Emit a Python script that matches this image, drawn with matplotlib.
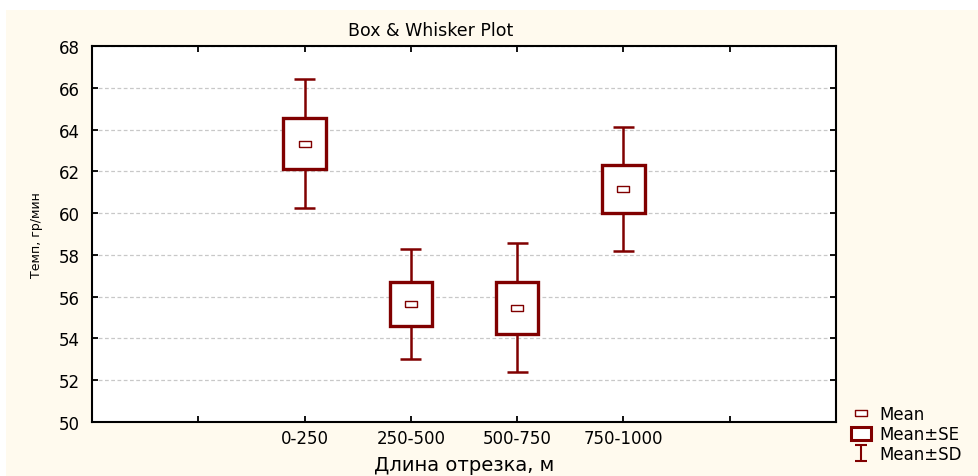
import matplotlib.pyplot as plt
import matplotlib.patches as mpatches
from matplotlib.lines import Line2D
from matplotlib.path import Path

plt.rcParams['font.family'] = ['DejaVu Sans']

# data
groups = ['0-250', '250-500', '500-750', '750-1000']
means = [63.33, 55.65, 55.47, 61.16]
se = [1.23, 1.05, 1.25, 1.15]
sd = [3.08, 2.65, 3.10, 2.95]
positions = [2, 3, 4, 5]

dark_red = '#800000'
cream = '#fffaee'

fig = plt.figure(figsize=(9.79, 4.77), dpi=100, facecolor='white')
# cream panel behind everything
fig.patches.append(mpatches.Rectangle((6 / 979, 0), 1, 1 - 11 / 477,
                                      transform=fig.transFigure,
                                      facecolor=cream, edgecolor='none', zorder=-10))

ax = fig.add_axes([92 / 979, 1 - 423 / 477, 744 / 979, 376 / 477])
ax.set_facecolor('white')

box_w = 0.4
cap_w = 0.2
mean_marker = Path([(-1, -0.55), (1, -0.55), (1, 0.55), (-1, 0.55), (-1, -0.55)])
ibeam = Path([(-0.8, 1), (0.8, 1), (0, 1), (0, -1), (-0.8, -1), (0.8, -1)],
             [Path.MOVETO, Path.LINETO, Path.MOVETO, Path.LINETO, Path.MOVETO, Path.LINETO])

for x, m, s, d in zip(positions, means, se, sd):
    # whiskers (mean +- sd)
    ax.vlines(x, m + s, m + d, color=dark_red, lw=1.8, zorder=3)
    ax.vlines(x, m - d, m - s, color=dark_red, lw=1.8, zorder=3)
    ax.hlines([m + d, m - d], x - cap_w / 2, x + cap_w / 2, color=dark_red, lw=1.8, zorder=3)
    # box (mean +- se)
    ax.add_patch(mpatches.Rectangle((x - box_w / 2, m - s), box_w, 2 * s,
                                    facecolor='white', edgecolor=dark_red, lw=2.4, zorder=4))

ax.plot(positions, means, linestyle='none', marker=mean_marker, markersize=9,
        markerfacecolor='white', markeredgecolor=dark_red, markeredgewidth=1.0, zorder=5)

ax.set_xlim(0, 7)
ax.set_ylim(50, 68)
ax.set_xticks([1, 2, 3, 4, 5, 6])
ax.set_xticklabels([''] + groups + [''])
ax.set_yticks(range(50, 69, 2))

ax.grid(axis='y', color='#c8c8c8', linestyle=(0, (3, 2)), lw=0.9)
ax.set_axisbelow(True)
ax.tick_params(direction='in', top=True, right=True, length=4, width=1.3,
               labelsize=12, color='black')
ax.tick_params(axis='y', pad=9)
ax.tick_params(axis='x', pad=5)
for sp in ax.spines.values():
    sp.set_linewidth(1.5)

ax.set_title('Box & Whisker Plot', fontsize=12.5, pad=8, x=0.455)
ax.set_xlabel('Длина отрезка, м', fontsize=14, labelpad=6)
ax.set_ylabel('Темп, гр/мин', fontsize=9, labelpad=11)

handles = [
    Line2D([], [], linestyle='none', marker=mean_marker, markersize=9,
           markerfacecolor='white', markeredgecolor=dark_red, markeredgewidth=1.0),
    mpatches.Rectangle((0, 0), 1, 1, facecolor='white', edgecolor=dark_red, lw=2.2),
    Line2D([], [], linestyle='none', marker=ibeam, markersize=11,
           markerfacecolor='none', markeredgecolor=dark_red, markeredgewidth=1.5),
]
fig.legend(handles, ['Mean', 'Mean±SE', 'Mean±SD'], loc='upper left',
           bbox_to_anchor=(843 / 979, 1 - 398 / 477), frameon=False,
           fontsize=12, handlelength=1.2, handleheight=0.8, handletextpad=0.5,
           labelspacing=0.12, borderpad=0)

fig.savefig('out.png', dpi=100, facecolor=fig.get_facecolor())
